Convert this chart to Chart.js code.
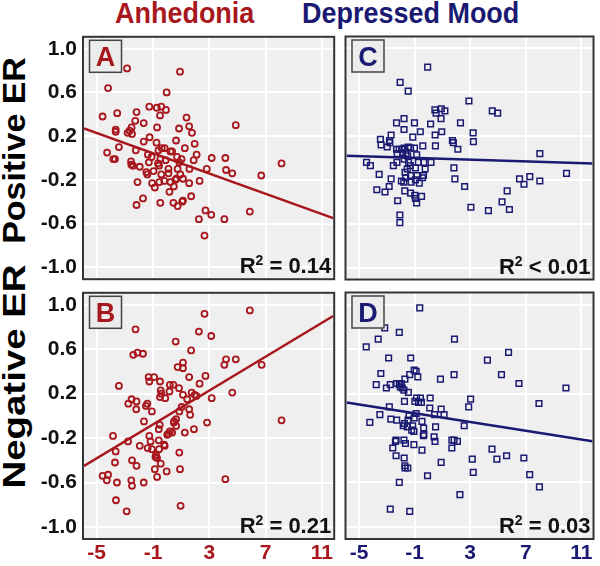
<!DOCTYPE html>
<html>
<head>
<meta charset="utf-8">
<script src="https://cdn.jsdelivr.net/npm/chart.js@4.4.0/dist/chart.umd.min.js"></script>
<style>
  html, body { margin: 0; padding: 0; background: #fff; overflow: hidden; }
  #fig { position: relative; width: 600px; height: 566px; font-family: "Liberation Sans", Arial, sans-serif; }
  .panel { position: absolute; }
  .title { position: absolute; top: -1px; font-weight: bold; font-size: 29px; line-height: 29px; white-space: nowrap; transform: scaleX(0.93); transform-origin: left top; }
  .ylab { position: absolute; width: 300px; height: 33px; line-height: 33px; font-size: 32px; font-weight: bold; text-align: center; white-space: nowrap; color: #000; }
</style>
</head>
<body>
<div id="fig">
  <div class="title" style="left:115px;color:#a8171d">Anhedonia</div>
  <div class="title" style="left:302px;color:#1a1a72">Depressed Mood</div>
  <div class="ylab" style="left:-136px;top:134px;transform:rotate(-90deg) scaleX(1.06)">Positive ER</div>
  <div class="ylab" style="left:-136px;top:360px;transform:rotate(-90deg) scaleX(1.2)">Negative ER</div>
  <div class="panel" style="left:28px;top:32px;width:311px;height:252px"><canvas id="pA"></canvas></div>
  <div class="panel" style="left:341px;top:32px;width:257px;height:252px"><canvas id="pC"></canvas></div>
  <div class="panel" style="left:28px;top:288px;width:311px;height:278px"><canvas id="pB"></canvas></div>
  <div class="panel" style="left:341px;top:288px;width:257px;height:278px"><canvas id="pD"></canvas></div>
</div>
<script>
const xTicks = [-5, -1, 3, 7, 11];
const yTicks = [-1.0, -0.6, -0.2, 0.2, 0.6, 1.0];
const lineX = [-5.9, 11.8]; // fit lines run edge to edge

// A: Anhedonia vs Positive ER
const anhPosX = [-2.84, 0.92, -4.19, -0.03, -1.26, -0.73, -0.41, -0.08, -4.58, -3.54,
  -2.17, -0.50, 1.38, -2.26, -1.66, 4.88, -0.71, 0.85, 1.57, -3.65,
  -3.65, -2.52, -2.80, -2.49, -2.66, 1.77, -1.24, 0.64, -1.66, -0.75,
  1.96, -3.42, -2.22, -0.38, -0.17, -0.61, 0.24, 0.36, 1.26, -4.26,
  -1.36, -1.10, 2.10, -3.82, -3.70, -2.56, -0.48, -0.10, 0.71, 1.03,
  1.89, 3.17, 4.14, 8.13, -2.54, -2.42, -1.94, -1.29, -0.64, -0.57,
  0.87, 1.59, 2.82, 4.19, 4.63, -1.47, -0.96, -1.40, -0.41, 0.10,
  0.10, 0.75, 0.94, 0.66, 0.59, 1.13, -2.10, -1.06, -0.87, -0.55,
  -0.20, 0.24, 0.48, 1.57, 2.31, 6.69, 0.17, -1.71, -2.17, -0.48,
  0.45, 0.75, 1.13, 1.08, 1.71, 2.73, 2.26, 3.14, 4.07, 5.88, 2.66];
const anhPosY = [0.82, 0.79, 0.64, 0.60, 0.47, 0.46, 0.47, 0.44, 0.38, 0.41,
  0.42, 0.39, 0.37, 0.34, 0.32, 0.30, 0.28, 0.27, 0.29, 0.26,
  0.24, 0.28, 0.23, 0.22, 0.25, 0.23, 0.19, 0.16, 0.15, 0.14,
  0.13, 0.10, 0.07, 0.09, 0.09, 0.07, 0.06, 0.06, 0.09, 0.05,
  0.03, 0.01, 0.03, -0.01, -0.01, -0.03, -0.01, -0.02, 0.01, -0.01,
  -0.02, 0.00, 0.00, -0.05, -0.06, -0.07, -0.08, -0.04, -0.05, -0.07,
  -0.04, -0.10, -0.10, -0.11, -0.14, -0.13, -0.12, -0.15, -0.15, -0.14,
  -0.10, -0.10, -0.15, -0.19, -0.20, -0.19, -0.22, -0.23, -0.27, -0.22,
  -0.21, -0.22, -0.26, -0.23, -0.21, -0.16, -0.31, -0.37, -0.43, -0.41,
  -0.41, -0.44, -0.39, -0.40, -0.35, -0.48, -0.56, -0.52, -0.56, -0.49, -0.71];
const anhPosLine = [0.27, -0.55];

// B: Anhedonia vs Negative ER
const anhNegX = [2.66, 5.88, -2.24, 2.26, 3.14, 0.61, 1.71, -2.40, -2.10, -1.71,
  4.19, 4.88, 4.07, 6.72, 0.75, 1.13, 1.13, -1.31, -0.92, -1.26,
  -0.50, 1.57, 2.73, -3.42, 2.31, 0.20, 0.45, 0.85, -0.45, -0.41,
  0.17, -0.50, -0.13, 1.13, 1.75, 1.96, 2.08, 4.63, 3.17, -2.52,
  -2.75, -2.17, -2.19, -1.40, -1.50, 1.43, 1.03, 1.57, 0.87, -1.08,
  -1.64, 1.64, 0.64, 0.50, 0.48, -0.52, 0.64, -0.59, 2.84, 1.91,
  1.26, 0.20, 0.10, 0.36, 0.01, -3.84, -2.77, -1.26, -1.17, -0.59,
  -0.20, -0.17, -1.94, -1.38, -1.08, -0.57, -3.65, -0.78, -0.82, -0.71,
  0.87, -3.70, -2.49, -2.17, -0.45, -0.87, -0.03, 0.92, -4.58, -4.19,
  -4.28, -3.56, -2.54, -2.49, -1.66, -0.71, 4.14, 8.13, -3.63, -2.87, 0.96];
const anhNegY = [0.92, 0.95, 0.78, 0.76, 0.72, 0.67, 0.59, 0.55, 0.57, 0.56,
  0.51, 0.51, 0.46, 0.46, 0.44, 0.48, 0.43, 0.35, 0.35, 0.31,
  0.31, 0.35, 0.36, 0.27, 0.29, 0.28, 0.28, 0.25, 0.23, 0.20,
  0.22, 0.17, 0.16, 0.19, 0.21, 0.19, 0.18, 0.21, 0.16, 0.15,
  0.11, 0.13, 0.06, 0.11, 0.09, 0.15, 0.08, 0.06, 0.04, 0.04,
  -0.05, 0.01, -0.03, -0.05, -0.06, -0.08, -0.09, -0.12, -0.06, -0.12,
  -0.15, -0.14, -0.16, -0.15, -0.17, -0.18, -0.23, -0.18, -0.23, -0.22,
  -0.26, -0.27, -0.27, -0.29, -0.30, -0.30, -0.32, -0.35, -0.37, -0.38,
  -0.33, -0.42, -0.40, -0.45, -0.43, -0.48, -0.50, -0.48, -0.54, -0.53,
  -0.58, -0.60, -0.58, -0.63, -0.60, -0.55, -0.57, -0.04, -0.76, -0.86, -0.81];
const anhNegLine = [-0.45, 0.90];

// C: Depressed mood vs Positive ER
const depPosX = [-0.06, -2.04, -1.46, 2.91, 4.59, 4.98, 0.46, 0.55, 0.92, 1.18,
  0.90, -1.76, -2.30, -1.01, 0.15, 2.30, -1.76, -0.59, 0.95, 0.48,
  3.21, -2.69, -3.46, -2.81, -2.78, -3.41, -2.97, -1.13, 3.23, 1.72,
  1.79, 2.11, -0.41, 0.50, -2.30, -2.11, -1.92, -1.76, -1.46, -1.29,
  -1.01, -2.25, -1.85, -1.62, -0.85, 8.01, -4.46, -4.18, -2.53, -2.27,
  -1.74, -1.43, -1.50, -0.73, -0.34, 0.18, -1.31, -0.94, -0.24, -3.55,
  -2.69, -1.69, -1.53, -1.64, -1.29, -0.83, -0.43, -0.36, -0.94, -1.95,
  -1.78, -1.25, -0.66, 1.83, 1.90, 2.60, 6.55, 6.87, 7.29, 8.01,
  9.93, -2.83, -3.13, -3.72, -1.71, -1.29, -0.99, -0.94, -0.50, -0.85,
  -2.22, 5.66, 5.29, 5.82, 4.31, 3.05, -2.06, -2.06];
const depPosY = [0.83, 0.69, 0.61, 0.52, 0.43, 0.41, 0.44, 0.41, 0.45, 0.43,
  0.36, 0.36, 0.32, 0.32, 0.31, 0.32, 0.26, 0.24, 0.24, 0.21,
  0.23, 0.21, 0.17, 0.16, 0.14, 0.12, 0.10, 0.19, 0.15, 0.16,
  0.14, 0.08, 0.11, 0.11, 0.08, 0.08, 0.08, 0.09, 0.10, 0.09,
  0.09, 0.04, 0.05, 0.04, 0.03, 0.04, -0.04, -0.07, -0.07, -0.04,
  -0.01, -0.04, 0.02, -0.04, -0.04, -0.04, -0.07, -0.09, -0.10, -0.15,
  -0.19, -0.13, -0.10, -0.18, -0.16, -0.16, -0.18, -0.16, -0.20, -0.21,
  -0.22, -0.22, -0.23, -0.09, -0.19, -0.26, -0.19, -0.24, -0.17, -0.21,
  -0.14, -0.26, -0.31, -0.29, -0.30, -0.32, -0.34, -0.37, -0.35, -0.41,
  -0.39, -0.30, -0.40, -0.47, -0.48, -0.45, -0.52, -0.59];
const depPosLine = [0.02, -0.05];

// D: Depressed mood vs Negative ER
const depNegX = [-0.63, -3.15, -2.10, 1.87, -3.62, -4.48, 5.76, -2.87, -1.28, 4.24,
  -1.03, -0.89, -0.77, -3.43, 1.84, 0.86, 5.25, -3.76, -2.75, -3.03,
  -2.29, -2.10, -1.96, -2.03, -1.89, -1.70, -1.35, -1.77, -1.45, 6.51,
  9.89, -0.86, -0.58, 0.12, -0.98, -0.72, -0.51, -1.73, 3.03, 2.89,
  7.95, -2.82, -3.50, 0.09, 0.91, 1.12, 0.44, -1.40, -0.89, -1.03,
  -4.22, -2.71, -2.29, -1.47, -0.47, -1.82, -1.73, -1.52, -1.14, -1.05,
  -1.21, -0.35, 0.51, 2.57, -0.37, -0.33, 0.40, 0.47, -2.33, -2.38,
  -1.77, -1.66, -1.05, 1.68, 1.84, 2.08, 1.68, -2.57, -0.47, -2.33,
  -1.75, 4.57, 4.92, 5.62, 6.86, 3.15, 0.91, 3.22, -1.70, -1.68,
  -1.49, -0.07, -2.10, 7.28, 7.98, 2.26, -2.75, -1.35];
const depNegY = [0.97, 0.79, 0.75, 0.69, 0.69, 0.62, 0.57, 0.52, 0.52, 0.50,
  0.41, 0.40, 0.35, 0.38, 0.37, 0.33, 0.37, 0.28, 0.28, 0.25,
  0.29, 0.28, 0.29, 0.26, 0.25, 0.33, 0.37, 0.23, 0.21, 0.29,
  0.25, 0.16, 0.16, 0.16, 0.13, 0.12, 0.12, 0.13, 0.15, 0.08,
  0.11, 0.08, 0.01, 0.07, 0.06, 0.01, 0.01, 0.00, 0.02, -0.02,
  -0.06, -0.03, -0.04, -0.04, -0.05, -0.09, -0.07, -0.10, -0.09, -0.14,
  -0.13, -0.11, -0.10, -0.09, -0.18, -0.17, -0.19, -0.23, -0.22, -0.23,
  -0.22, -0.25, -0.26, -0.22, -0.22, -0.23, -0.29, -0.29, -0.31, -0.36,
  -0.38, -0.30, -0.39, -0.36, -0.38, -0.39, -0.42, -0.51, -0.45, -0.47,
  -0.47, -0.54, -0.60, -0.53, -0.64, -0.71, -0.84, -0.86];
const depNegLine = [0.12, -0.23];

const red = '#a8171d';
const navy = '#1a1a72';
const tickFont = { family: 'Liberation Sans', weight: 'bold', size: 21 };

// grey panel, dark frame, letter box and R² note
const panelDeco = {
  id: 'panelDeco',
  beforeDraw(chart) {
    const a = chart.chartArea, ctx = chart.ctx;
    ctx.save();
    ctx.fillStyle = '#efefef';
    ctx.fillRect(a.left, a.top, a.right - a.left, a.bottom - a.top);
    ctx.restore();
  },
  afterDraw(chart, args, o) {
    const a = chart.chartArea, ctx = chart.ctx;
    ctx.save();
    ctx.strokeStyle = '#333';
    ctx.lineWidth = 2;
    ctx.strokeRect(a.left - 1, a.top - 1, a.right - a.left + 2, a.bottom - a.top + 2);

    ctx.fillStyle = '#ececec';
    ctx.fillRect(a.left + 5, a.top + 2, 33, 33);
    ctx.strokeStyle = '#444';
    ctx.lineWidth = 1.5;
    ctx.strokeRect(a.left + 5.5, a.top + 2.5, 32, 32);
    ctx.fillStyle = o.color;
    ctx.font = 'bold 27px "Liberation Sans"';
    ctx.textAlign = 'center';
    ctx.textBaseline = 'alphabetic';
    ctx.fillText(o.letter, a.left + 21.5, a.top + 28.5);

    ctx.fillStyle = '#111';
    ctx.textAlign = 'left';
    const big = 'bold 22px "Liberation Sans"', small = 'bold 14px "Liberation Sans"';
    ctx.font = big;
    const wR = ctx.measureText('R').width, wRest = ctx.measureText(o.stat).width;
    ctx.font = small;
    const wS = ctx.measureText('2').width;
    let x = a.right - 2 - (wR + wS + wRest);
    const base = a.bottom - 5;
    ctx.font = big; ctx.fillText('R', x, base); x += wR;
    ctx.font = small; ctx.fillText('2', x, base - 8); x += wS;
    ctx.font = big; ctx.fillText(o.stat, x, base);
    ctx.restore();
  }
};

function makePanel(id, xs, ys, fit, color, shape, letter, stat, showY, showX) {
  const points = xs.map((x, i) => ({ x: x, y: ys[i] }));
  const fitLine = lineX.map((x, i) => ({ x: x, y: fit[i] }));
  return new Chart(document.getElementById(id), {
    type: 'scatter',
    data: {
      datasets: [
        { data: fitLine, showLine: true, borderColor: color, borderWidth: 2.5, pointRadius: 0 },
        {
          data: points,
          pointStyle: shape,
          pointRadius: shape === 'rect' ? 4 : 3,
          borderWidth: shape === 'rect' ? 1.5 : 1.8,
          borderColor: color,
          backgroundColor: 'rgba(0,0,0,0)'
        }
      ]
    },
    options: {
      responsive: true,
      maintainAspectRatio: false,
      animation: false,
      devicePixelRatio: 1,
      layout: { padding: { top: 2, right: 2, bottom: showX ? 0 : 2, left: 0 } },
      plugins: {
        legend: { display: false },
        tooltip: { enabled: false },
        panelDeco: { letter: letter, stat: stat, color: color }
      },
      scales: {
        x: {
          type: 'linear',
          min: lineX[0],
          max: lineX[1],
          afterBuildTicks: s => { s.ticks = xTicks.map(v => ({ value: v })); },
          grid: { color: '#ffffff', lineWidth: 2, drawTicks: false },
          border: { display: false },
          ticks: { display: showX, color: color, font: tickFont, padding: 3 },
          afterFit: s => { s.height = showX ? 28 : 0; s.paddingLeft = 0; s.paddingRight = 0; }
        },
        y: {
          type: 'linear',
          min: -1.1,
          max: 1.1,
          afterBuildTicks: s => { s.ticks = yTicks.map(v => ({ value: v })); },
          grid: { color: '#ffffff', lineWidth: 2, drawTicks: false },
          border: { display: false },
          ticks: { display: showY, color: '#111', font: tickFont, padding: 7, callback: v => v.toFixed(1) },
          afterFit: s => { s.width = showY ? 56 : 2; s.paddingTop = 0; s.paddingBottom = 0; }
        }
      }
    },
    plugins: [panelDeco]
  });
}

makePanel('pA', anhPosX, anhPosY, anhPosLine, red, 'circle', 'A', ' = 0.14', true, false);
makePanel('pB', anhNegX, anhNegY, anhNegLine, red, 'circle', 'B', ' = 0.21', true, true);
makePanel('pC', depPosX, depPosY, depPosLine, navy, 'rect', 'C', ' < 0.01', false, false);
makePanel('pD', depNegX, depNegY, depNegLine, navy, 'rect', 'D', ' = 0.03', false, true);
</script>
</body>
</html>
